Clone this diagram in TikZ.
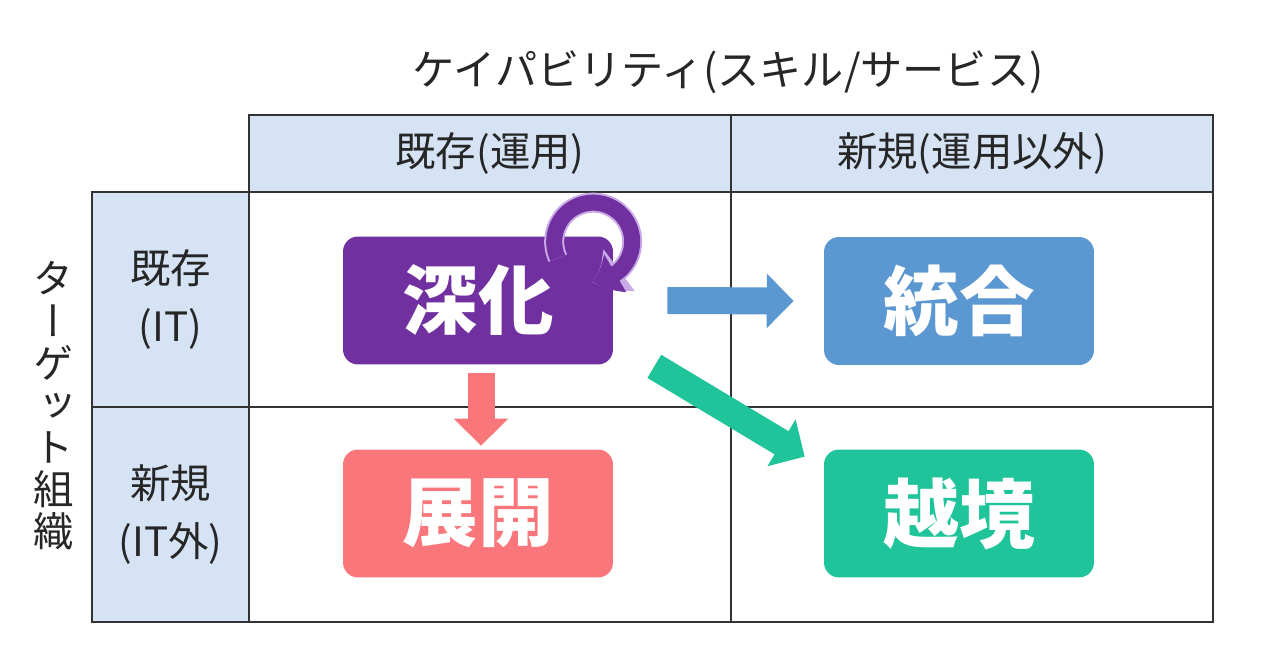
\documentclass[tikz,border=0pt]{standalone}
\usepackage{fontspec}
\setmainfont{Noto Sans CJK JP}
\newfontfamily\jpvert[RawFeature=+vert]{Noto Sans CJK JP}
\usetikzlibrary{arrows.meta, bending, positioning}

\definecolor{hdrblue}{HTML}{D5E3F4}
\definecolor{gridline}{HTML}{333333}
\definecolor{txtdark}{HTML}{262626}
\definecolor{fukapurple}{HTML}{7030A0}
\definecolor{fukaedge}{HTML}{C9A9E6}
\definecolor{tougoublue}{HTML}{5B97D1}
\definecolor{tenkaipink}{HTML}{F9777B}
\definecolor{ekkyougreen}{HTML}{1FC49A}

\begin{document}
\begin{tikzpicture}[
    x=0.02cm, y=-0.02cm,
    % GLOBAL CFG
    >=LaTeX,
    % Styles
    hcell/.style={% header and side cells
        rectangle,
        draw=gridline,
        fill=hdrblue,
        line width=1.1pt,
        inner sep=0pt,
        outer sep=0pt,
        text=txtdark,
        align=center,
        font=\fontsize{23}{33}\selectfont
        },
    qcell/.style={% the four quadrants
        rectangle,
        draw=gridline,
        fill=white,
        line width=1.1pt,
        minimum width=9.64cm,
        minimum height=4.3cm,
        inner sep=0pt,
        outer sep=0pt
        },
    tbox/.style={% coloured theme boxes
        rectangle,
        rounded corners=0.3cm,
        minimum width=5.4cm,
        minimum height=2.56cm,
        text=white,
        font=\fontsize{43}{50}\selectfont\bfseries
        },
    ArrowB1/.style={% straight block arrows
        line width=0.54cm,
        -{Triangle[length=0.54cm, width=1.06cm]}
        },
    ArrowR1/.style={% round arrow, light rim first
        line width=0.32cm,
        -{Triangle[length=0.5cm, width=0.84cm, bend]},
        preaction={draw=fukaedge, line width=0.4cm, -{Triangle[length=0.6cm, width=1.0cm, bend]}}
        }
    ]
\useasboundingbox (0,0) rectangle (1280,671);

%Start drawing the thing...
    % Title
    \node[text=txtdark, font=\fontsize{24}{28}\selectfont] (title) at (728,72) {ケイパビリティ(スキル/サービス)};

    % Draw header cells named h#
    \node[hcell, minimum width=9.64cm, minimum height=1.54cm] (hexist) at (490,153.5) {既存(運用)};
    \node[hcell, minimum width=9.64cm, minimum height=1.54cm] (hnew) at (972,153.5) {新規(運用以外)};

    % Draw side cells named s#
    \node[hcell, minimum width=3.14cm, minimum height=4.3cm] (sexist) at (170.5,299.5) {既存\\(IT)};
    \node[hcell, minimum width=3.14cm, minimum height=4.3cm] (snew) at (170.5,514.5) {新規\\(IT外)};

    % Draw quadrants named q#
    \node[qcell] (q11) at (490,299.5) {};
    \node[qcell] (q12) at (972,299.5) {};
    \node[qcell] (q21) at (490,514.5) {};
    \node[qcell] (q22) at (972,514.5) {};

    % Vertical label
    \node[text=txtdark, align=center, font=\jpvert\fontsize{23}{24}\selectfont] (target) at (54,406) {タ\\ー\\ゲ\\ッ\\ト\\組\\織};

    % Draw the theme boxes
    \node[tbox, fill=fukapurple] (shinka) at (478,300.5) {深化};
    \node[tbox, fill=tougoublue] (tougou) at (959,301) {統合};
    \node[tbox, fill=tenkaipink] (tenkai) at (478,513.5) {展開};
    \node[tbox, fill=ekkyougreen] (ekkyou) at (959,513.5) {越境};

% Start connecting all.
    \draw[ArrowB1, tougoublue] ([xshift=1.08cm]shinka.east) -- ([xshift=-0.6cm]tougou.west);
    \draw[ArrowB1, tenkaipink] ([xshift=0.06cm, yshift=-0.16cm]shinka.south) -- ([xshift=0.06cm, yshift=0.07cm]tenkai.north);
    \draw[ArrowB1, ekkyougreen] ([xshift=0.82cm, yshift=-0.03cm]shinka.south east) -- ([xshift=-0.38cm, yshift=-0.15cm]ekkyou.north west);

    % the loop on top of the box
    \draw[ArrowR1, fukapurple] ([xshift=-1.11cm, yshift=-0.44cm]shinka.north east) arc[start angle=205, end angle=-92, radius=0.78cm];

\end{tikzpicture}
\end{document}
